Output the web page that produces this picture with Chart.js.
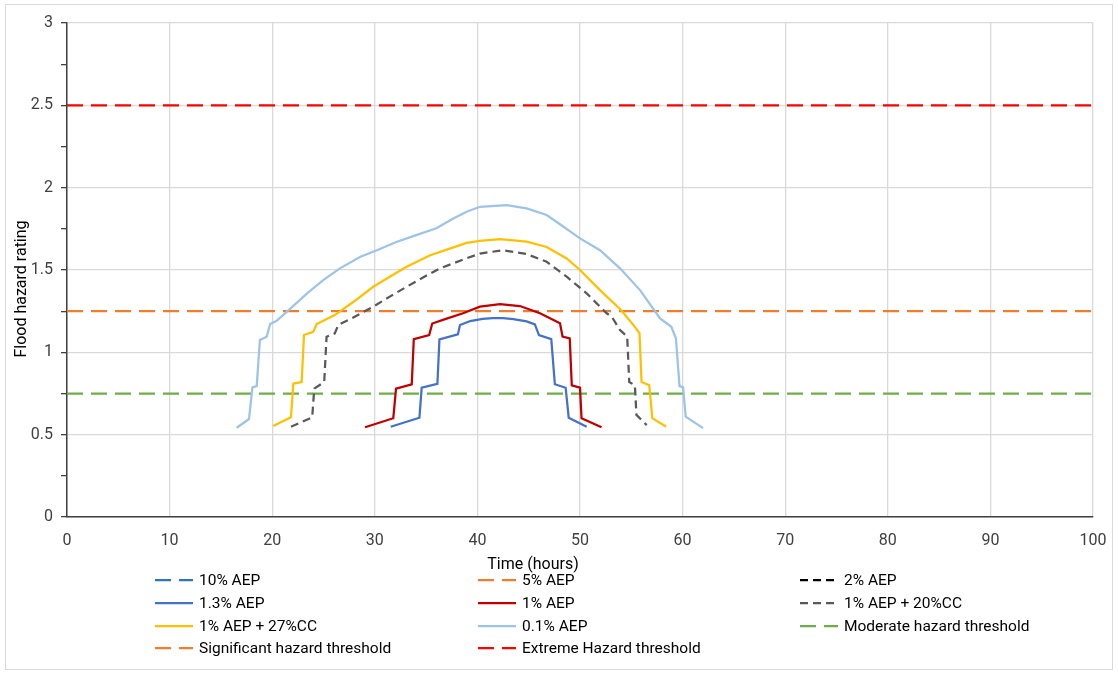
<!DOCTYPE html>
<html>
<head>
<meta charset="utf-8">
<title>Flood hazard rating</title>
<script src="https://cdn.jsdelivr.net/npm/chart.js@4"></script>
<style>
  html, body { margin: 0; padding: 0; background: #fff; }
  #wrap { width: 1118px; height: 675px; }
</style>
</head>
<body>
<div id="wrap"><canvas id="myChart" width="1118" height="675"></canvas></div>
<script>
const aep1p3Time = [31.55, 34.35, 34.57, 36.1, 36.3, 38.1, 38.3, 39.3, 40.5, 41.5, 42.5, 43.5, 44.8, 45.6, 46.0, 47.2, 47.55, 48.6, 48.9, 50.65];
const aep1p3Hazard = [0.548, 0.603, 0.785, 0.808, 1.079, 1.109, 1.166, 1.19, 1.203, 1.208, 1.208, 1.202, 1.188, 1.17, 1.105, 1.08, 0.806, 0.785, 0.603, 0.548];

const aep1Time = [29.05, 31.8, 32.07, 33.6, 33.8, 35.3, 35.6, 37.0, 38.6, 40.25, 42.2, 44.15, 46.1, 48.05, 48.3, 49.0, 49.2, 50.0, 50.15, 52.1];
const aep1Hazard = [0.545, 0.6, 0.78, 0.805, 1.08, 1.105, 1.175, 1.205, 1.237, 1.277, 1.293, 1.281, 1.237, 1.176, 1.095, 1.085, 0.8, 0.786, 0.6, 0.545];

const cc20Time = [21.83, 23.9, 24.1, 25.07, 25.3, 26.1, 26.44, 27.9, 29.85, 31.5, 33.1, 34.7, 36.35, 38.95, 40.25, 42.5, 44.8, 46.75, 48.7, 50.65, 52.6, 53.1, 53.9, 54.6, 54.8, 55.35, 55.5, 56.5];
const cc20Hazard = [0.548, 0.605, 0.78, 0.82, 1.095, 1.115, 1.166, 1.212, 1.277, 1.34, 1.398, 1.455, 1.51, 1.571, 1.6, 1.62, 1.597, 1.55, 1.46, 1.358, 1.237, 1.216, 1.135, 1.095, 0.82, 0.8, 0.62, 0.558];

const cc27Time = [20.1, 21.83, 22.06, 22.87, 23.1, 24.0, 24.34, 26.1, 28.0, 29.85, 31.5, 33.1, 35.4, 37.3, 38.95, 40.25, 42.2, 44.8, 46.75, 48.7, 50.0, 51.95, 54.0, 55.35, 55.8, 56.0, 56.75, 57.05, 58.4];
const cc27Hazard = [0.552, 0.605, 0.81, 0.82, 1.105, 1.125, 1.172, 1.226, 1.31, 1.398, 1.46, 1.52, 1.59, 1.63, 1.665, 1.677, 1.688, 1.672, 1.64, 1.57, 1.5, 1.378, 1.257, 1.155, 1.115, 0.82, 0.8, 0.6, 0.548];

const aep0p1Time = [16.54, 17.74, 18.07, 18.49, 18.8, 19.46, 19.8, 20.4, 21.5, 23.4, 25.0, 26.6, 28.6, 30.2, 32.1, 33.75, 36.0, 37.65, 38.95, 40.25, 42.85, 44.8, 46.75, 47.7, 50.0, 51.95, 53.9, 55.85, 57.8, 58.9, 59.35, 59.7, 60.05, 60.3, 62.0];
const aep0p1Hazard = [0.542, 0.595, 0.787, 0.795, 1.075, 1.095, 1.172, 1.19, 1.25, 1.358, 1.44, 1.51, 1.58, 1.62, 1.67, 1.706, 1.753, 1.813, 1.854, 1.884, 1.894, 1.874, 1.834, 1.793, 1.692, 1.62, 1.51, 1.378, 1.206, 1.155, 1.085, 0.795, 0.787, 0.609, 0.54];

// Hazard thresholds run across the whole time axis
const thresholdTime = [0, 100];
const moderateThreshold = [0.75, 0.75];
const significantThreshold = [1.25, 1.25];
const extremeThreshold = [2.5, 2.5];

function toPoints(xs, ys) {
  return xs.map((x, i) => ({ x: x, y: ys[i] }));
}

function series(label, color, dash, xs, ys) {
  return {
    label: label,
    data: xs ? toPoints(xs, ys) : [],
    borderColor: color,
    backgroundColor: color,
    borderDash: dash,
    borderWidth: 2.25,
    showLine: true,
    pointRadius: 0,
    tension: 0
  };
}

const longDash = [16, 8];
const shortDash = [8, 5];

const datasets = [
  series('10% AEP', '#2E75B6', longDash),
  series('5% AEP', '#ED7D31', longDash),
  series('2% AEP', '#000000', shortDash),
  series('1.3% AEP', '#4472C4', [], aep1p3Time, aep1p3Hazard),
  series('1% AEP', '#C00000', [], aep1Time, aep1Hazard),
  series('1% AEP + 20%CC', '#595959', shortDash, cc20Time, cc20Hazard),
  series('1% AEP + 27%CC', '#FFC000', [], cc27Time, cc27Hazard),
  series('0.1% AEP', '#9DC3E6', [], aep0p1Time, aep0p1Hazard),
  series('Moderate hazard threshold', '#70AD47', longDash, thresholdTime, moderateThreshold),
  series('Significant hazard threshold', '#ED7D31', longDash, thresholdTime, significantThreshold),
  series('Extreme Hazard threshold', '#FF0000', longDash, thresholdTime, extremeThreshold)
];

const FONT = 'Roboto, "Open Sans", sans-serif';

// Legend grid, axis titles and outer frame, drawn like the spreadsheet layout
const sheetLayout = {
  id: 'sheetLayout',
  afterDraw(chart) {
    const ctx = chart.ctx;
    ctx.save();

    ctx.strokeStyle = '#d9d9d9';
    ctx.lineWidth = 1;
    ctx.strokeRect(5.5, 4.5, 1107, 665);

    ctx.fillStyle = '#000';
    ctx.font = '16px ' + FONT;
    ctx.textAlign = 'center';
    ctx.textBaseline = 'middle';
    ctx.fillText('Time (hours)', 533, 565);

    ctx.save();
    ctx.translate(22, 289);
    ctx.rotate(-Math.PI / 2);
    ctx.font = '16px ' + FONT;
    ctx.fillText('Flood hazard rating', 0, 0);
    ctx.restore();

    const colX = [155, 478, 800];
    const rowY = [580, 603, 626, 648];
    ctx.font = '15.5px ' + FONT;
    ctx.textAlign = 'left';
    chart.data.datasets.forEach((ds, i) => {
      const x = colX[i % 3];
      const y = rowY[Math.floor(i / 3)];
      ctx.strokeStyle = ds.borderColor;
      ctx.lineWidth = 2.25;
      ctx.setLineDash(ds.borderDash);
      ctx.beginPath();
      ctx.moveTo(x, y);
      ctx.lineTo(x + 38, y);
      ctx.stroke();
      ctx.setLineDash([]);
      ctx.fillStyle = '#000';
      ctx.fillText(ds.label, x + 44, y + 1);
    });
    ctx.restore();
  }
};

function isMajor(v) {
  return Math.abs(v * 2 - Math.round(v * 2)) < 1e-6;
}

const canvas = document.getElementById('myChart');
const chart = new Chart(canvas, {
  type: 'scatter',
  data: { datasets: datasets },
  options: {
    responsive: false,
    animation: false,
    layout: { padding: { top: 23, right: 25, left: 0, bottom: 0 } },
    plugins: {
      legend: { display: false },
      tooltip: { enabled: false }
    },
    scales: {
      x: {
        type: 'linear',
        min: 0,
        max: 100,
        afterFit: scale => {
          scale.height = 158;
          scale.paddingLeft = 0;
          scale.paddingRight = 13;
        },
        ticks: {
          stepSize: 10,
          padding: 14,
          color: '#404040',
          font: { family: FONT, size: 16 }
        },
        grid: { color: '#d9d9d9', lineWidth: 1.3, drawTicks: false },
        border: { color: '#404040', width: 1.5 }
      },
      y: {
        min: 0,
        max: 3,
        afterFit: scale => { scale.width = 67; },
        ticks: {
          stepSize: 0.25,
          padding: 8,
          color: '#404040',
          font: { family: FONT, size: 16 },
          callback: v => isMajor(v) ? v : ''
        },
        grid: {
          color: c => (c.tick && isMajor(c.tick.value)) ? '#d9d9d9' : 'rgba(0,0,0,0)',
          lineWidth: 1.3,
          tickColor: '#404040',
          tickLength: 6
        },
        border: { color: '#404040', width: 1.5 }
      }
    }
  },
  plugins: [sheetLayout]
});
</script>
</body>
</html>
